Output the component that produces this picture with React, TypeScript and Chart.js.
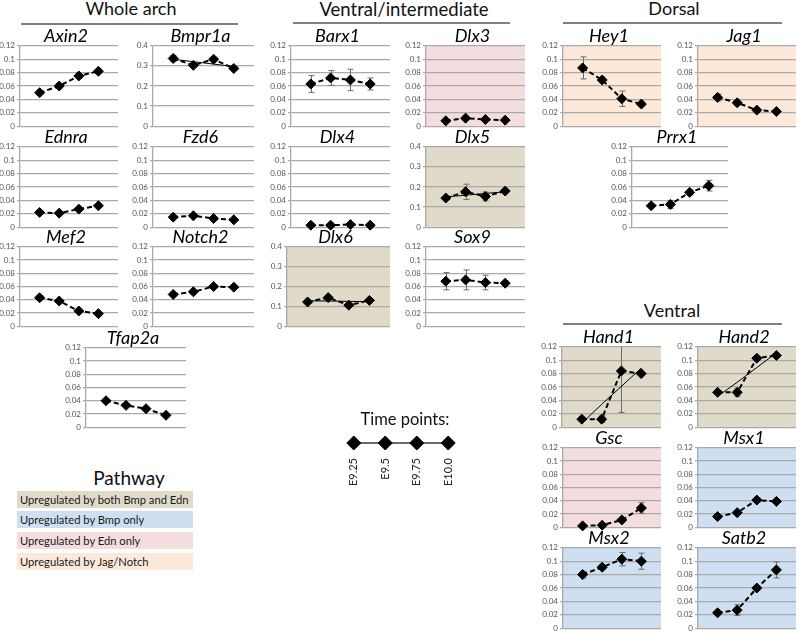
import React, { useEffect, useRef } from 'react';
import { Chart, registerables } from 'chart.js';
Chart.register(...registerables);

const FAMILY = "Lato, 'Open Sans', sans-serif";

// ---- time points
const timeLabels = ['E9.25', 'E9.5', 'E9.75', 'E10.0'];

// ---- values (relative expression), errors, trend lines
const axin2 = [0.050, 0.060, 0.075, 0.082];
const axin2Err = [0.002, 0.003, 0.003, 0.003];
const bmpr1a = [0.337, 0.303, 0.333, 0.287];
const bmpr1aErr = [0.014, 0.01, 0.01, 0.01];
const bmpr1aTrend = [0.333, 0.321, 0.309, 0.297];
const ednra = [0.022, 0.021, 0.027, 0.032];
const ednraErr = [0.002, 0.002, 0.002, 0.002];
const fzd6 = [0.015, 0.017, 0.013, 0.011];
const fzd6Err = [0.002, 0.002, 0.002, 0.002];
const mef2 = [0.043, 0.038, 0.023, 0.019];
const mef2Err = [0.003, 0.002, 0.002, 0.002];
const notch2 = [0.048, 0.052, 0.060, 0.059];
const notch2Err = [0.003, 0.002, 0.002, 0.002];
const tfap2a = [0.040, 0.033, 0.028, 0.018];
const tfap2aErr = [0.002, 0.002, 0.002, 0.002];

const barx1 = [0.063, 0.072, 0.069, 0.063];
const barx1Err = [0.0125, 0.011, 0.016, 0.009];
const dlx3 = [0.008, 0.012, 0.010, 0.009];
const dlx3Err = [0.001, 0.002, 0.001, 0.001];
const dlx4 = [0.003, 0.003, 0.004, 0.003];
const dlx4Err = [0.001, 0.001, 0.001, 0.001];
const dlx5 = [0.145, 0.176, 0.153, 0.180];
const dlx5Err = [0.008, 0.038, 0.022, 0.008];
const dlx5Trend = [0.151, 0.159, 0.168, 0.176];
const dlx6 = [0.122, 0.144, 0.106, 0.130];
const dlx6Err = [0.006, 0.01, 0.008, 0.006];
const dlx6Trend = [0.128, 0.127, 0.125, 0.124];
const sox9 = [0.068, 0.070, 0.066, 0.065];
const sox9Err = [0.013, 0.015, 0.011, 0.003];

const hey1 = [0.087, 0.069, 0.041, 0.033];
const hey1Err = [0.0165, 0.004, 0.0115, 0.003];
const jag1 = [0.043, 0.035, 0.024, 0.022];
const jag1Err = [0.005, 0.004, 0.002, 0.002];
const prrx1 = [0.032, 0.034, 0.052, 0.062];
const prrx1Err = [0.002, 0.006, 0.004, 0.008];

const hand1 = [0.012, 0.012, 0.084, 0.080];
const hand1Err = [0.002, 0.005, 0.062, 0.002];
const hand1Trend = [0.006, 0.034, 0.061, 0.088];
const hand2 = [0.052, 0.052, 0.103, 0.107];
const hand2Err = [0.002, 0.006, 0.003, 0.002];
const hand2Trend = [0.046, 0.067, 0.089, 0.111];
const gsc = [0.002, 0.003, 0.011, 0.029];
const gscErr = [0.001, 0.001, 0.003, 0.008];
const msx1 = [0.016, 0.022, 0.041, 0.039];
const msx1Err = [0.002, 0.003, 0.003, 0.002];
const msx2 = [0.080, 0.091, 0.103, 0.100];
const msx2Err = [0.005, 0.003, 0.01, 0.012];
const satb2 = [0.023, 0.027, 0.060, 0.087];
const satb2Err = [0.002, 0.008, 0.003, 0.012];

const pathwayLabels = [
  'Upregulated by both Bmp and Edn',
  'Upregulated by Bmp only',
  'Upregulated by Edn only',
  'Upregulated by Jag/Notch',
];

// ---- styles
const TAN = '#dfdbc8';
const BLUE = '#cddff1';
const PINK = '#f3dedd';
const PEACH = '#fde9d9';
const NONE = '';
const pathwayColors = [TAN, BLUE, PINK, PEACH];

type Panel = {
  name: string; values: number[]; errors: number[]; trend?: number[];
  max: number; bg: string; ax: number; rx: number; yt: number; yb: number;
};

const R1 = [45, 127], R2 = [146, 228], R3 = [246, 327], R4 = [347, 428];
const R5 = [447, 528], R6 = [547, 629];

const panels: Panel[] = [
  { name: 'Axin2', values: axin2, errors: axin2Err, max: 0.12, bg: NONE, ax: 20, rx: 120, yt: R1[0], yb: R1[1] },
  { name: 'Bmpr1a', values: bmpr1a, errors: bmpr1aErr, trend: bmpr1aTrend, max: 0.4, bg: NONE, ax: 153, rx: 256, yt: R1[0], yb: R1[1] },
  { name: 'Ednra', values: ednra, errors: ednraErr, max: 0.12, bg: NONE, ax: 20, rx: 120, yt: R2[0], yb: R2[1] },
  { name: 'Fzd6', values: fzd6, errors: fzd6Err, max: 0.12, bg: NONE, ax: 153, rx: 256, yt: R2[0], yb: R2[1] },
  { name: 'Mef2', values: mef2, errors: mef2Err, max: 0.12, bg: NONE, ax: 20, rx: 120, yt: R3[0], yb: R3[1] },
  { name: 'Notch2', values: notch2, errors: notch2Err, max: 0.12, bg: NONE, ax: 153, rx: 256, yt: R3[0], yb: R3[1] },
  { name: 'Tfap2a', values: tfap2a, errors: tfap2aErr, max: 0.12, bg: NONE, ax: 86, rx: 188, yt: R4[0], yb: R4[1] },
  { name: 'Barx1', values: barx1, errors: barx1Err, max: 0.12, bg: NONE, ax: 291, rx: 392, yt: R1[0], yb: R1[1] },
  { name: 'Dlx3', values: dlx3, errors: dlx3Err, max: 0.12, bg: PINK, ax: 426, rx: 527, yt: R1[0], yb: R1[1] },
  { name: 'Dlx4', values: dlx4, errors: dlx4Err, max: 0.12, bg: NONE, ax: 291, rx: 392, yt: R2[0], yb: R2[1] },
  { name: 'Dlx5', values: dlx5, errors: dlx5Err, trend: dlx5Trend, max: 0.4, bg: TAN, ax: 426, rx: 527, yt: R2[0], yb: R2[1] },
  { name: 'Dlx6', values: dlx6, errors: dlx6Err, trend: dlx6Trend, max: 0.4, bg: TAN, ax: 287, rx: 392, yt: R3[0], yb: R3[1] },
  { name: 'Sox9', values: sox9, errors: sox9Err, max: 0.12, bg: NONE, ax: 426, rx: 527, yt: R3[0], yb: R3[1] },
  { name: 'Hey1', values: hey1, errors: hey1Err, max: 0.12, bg: PEACH, ax: 563, rx: 663, yt: R1[0], yb: R1[1] },
  { name: 'Jag1', values: jag1, errors: jag1Err, max: 0.12, bg: PEACH, ax: 698, rx: 798, yt: R1[0], yb: R1[1] },
  { name: 'Prrx1', values: prrx1, errors: prrx1Err, max: 0.12, bg: NONE, ax: 632, rx: 730, yt: R2[0], yb: R2[1] },
  { name: 'Hand1', values: hand1, errors: hand1Err, trend: hand1Trend, max: 0.12, bg: TAN, ax: 562, rx: 663, yt: 346, yb: 428 },
  { name: 'Hand2', values: hand2, errors: hand2Err, trend: hand2Trend, max: 0.12, bg: TAN, ax: 698, rx: 798, yt: 346, yb: 428 },
  { name: 'Gsc', values: gsc, errors: gscErr, max: 0.12, bg: PINK, ax: 563, rx: 663, yt: R5[0], yb: R5[1] },
  { name: 'Msx1', values: msx1, errors: msx1Err, max: 0.12, bg: BLUE, ax: 698, rx: 798, yt: R5[0], yb: R5[1] },
  { name: 'Msx2', values: msx2, errors: msx2Err, max: 0.12, bg: BLUE, ax: 563, rx: 663, yt: R6[0], yb: R6[1] },
  { name: 'Satb2', values: satb2, errors: satb2Err, max: 0.12, bg: BLUE, ax: 698, rx: 798, yt: R6[0], yb: R6[1] },
];

const AXW = 36, PT = 6, PB = 6, PR = 4;
const GRID = '#a9a9a9';

function MiniChart({ p }: { p: Panel }) {
  const ref = useRef<HTMLCanvasElement>(null);
  const left = p.ax - AXW;
  const top = p.yt - PT;
  const width = p.rx - p.ax + AXW + PR;
  const height = p.yb - p.yt + PT + PB;
  useEffect(() => {
    const bgPlugin = {
      id: 'bg' + p.name,
      beforeDraw(chart: any) {
        if (!p.bg) return;
        const a = chart.chartArea;
        const ctx = chart.ctx;
        ctx.save();
        ctx.fillStyle = p.bg;
        ctx.fillRect(a.left, a.top, a.right - a.left, a.bottom - a.top);
        ctx.restore();
      },
    };
    const errPlugin = {
      id: 'err' + p.name,
      beforeDatasetsDraw(chart: any) {
        const meta = chart.getDatasetMeta(chart.data.datasets.length - 1);
        const ys = chart.scales.y;
        const a = chart.chartArea;
        const ctx = chart.ctx;
        ctx.save();
        ctx.strokeStyle = '#6b6b6b';
        ctx.lineWidth = 1;
        p.values.forEach((v, i) => {
          const e = p.errors[i];
          const pt = meta.data[i];
          if (!pt) return;
          const x = Math.round(pt.x) + 0.5;
          const y1 = Math.max(a.top, ys.getPixelForValue(v + e));
          const y2 = Math.min(a.bottom, ys.getPixelForValue(v - e));
          ctx.beginPath();
          ctx.moveTo(x, y1); ctx.lineTo(x, y2);
          if (ys.getPixelForValue(v + e) >= a.top) { ctx.moveTo(x - 3, y1); ctx.lineTo(x + 3, y1); }
          ctx.moveTo(x - 3, y2); ctx.lineTo(x + 3, y2);
          ctx.stroke();
        });
        ctx.restore();
      },
    };
    const datasets: any[] = [];
    if (p.trend) {
      datasets.push({
        data: p.trend.map((v, i) => ({ x: i + 1, y: v })),
        borderColor: '#000', borderWidth: 1, pointRadius: 0, clip: false,
      });
    }
    datasets.push({
      data: p.values.map((v, i) => ({ x: i + 1, y: v })),
      borderColor: '#000', borderWidth: 2, borderDash: [5, 3],
      pointStyle: 'rectRot', pointRadius: 5, pointBackgroundColor: '#000',
      pointBorderColor: '#000', pointBorderWidth: 1, clip: false,
    });
    const chart = new Chart(ref.current as HTMLCanvasElement, {
      type: 'line',
      data: { datasets },
      options: {
        animation: false,
        responsive: false,
        events: [],
        layout: { padding: { top: PT, bottom: PB, right: PR, left: 0 } },
        plugins: { legend: { display: false }, tooltip: { enabled: false } },
        scales: {
          x: { type: 'linear', min: 0, max: 5, display: false },
          y: {
            min: 0, max: p.max,
            afterFit: (s: any) => { s.width = AXW; },
            ticks: {
              stepSize: p.max > 0.2 ? 0.1 : 0.02,
              font: { size: 8, family: FAMILY },
              color: '#555',
              padding: 2,
              callback: (v: any) => String(parseFloat(Number(v).toFixed(3))),
            },
            grid: { color: GRID, lineWidth: 1.3, tickLength: 3 },
            border: { color: GRID, width: 1.3 },
          },
        },
      } as any,
      plugins: [bgPlugin, errPlugin],
    });
    return () => chart.destroy();
  }, []);
  const cx = (p.ax + p.rx) / 2 - 4;
  return (
    <>
      <canvas ref={ref} width={width} height={height}
        style={{ position: 'absolute', left, top, width, height }} />
      <div style={{
        position: 'absolute', left: cx - 60, width: 120, top: p.yt - 20,
        textAlign: 'center', fontFamily: FAMILY, fontStyle: 'italic',
        fontSize: 18, lineHeight: 1.2, color: '#000', whiteSpace: 'nowrap',
      }}>{p.name}</div>
    </>
  );
}

function TimeLegend() {
  const ref = useRef<HTMLCanvasElement>(null);
  useEffect(() => {
    const chart = new Chart(ref.current as HTMLCanvasElement, {
      type: 'line',
      data: {
        labels: timeLabels,
        datasets: [{
          data: timeLabels.map(() => 0.5),
          borderColor: '#6a6a6a', borderWidth: 2,
          pointStyle: 'rectRot', pointRadius: 7, pointBackgroundColor: '#000',
          pointBorderColor: '#000', pointBorderWidth: 1, clip: false,
        }],
      },
      options: {
        animation: false, responsive: false, events: [],
        layout: { padding: { top: 0, bottom: 0, left: 5.6, right: 5.7 } },
        plugins: { legend: { display: false }, tooltip: { enabled: false } },
        scales: {
          x: {
            type: 'category', offset: true,
            afterFit: (s: any) => { s.height = 36; },
            grid: { display: false }, border: { display: false },
            ticks: { minRotation: 90, maxRotation: 90, autoSkip: false, padding: 1,
              font: { size: 11, family: FAMILY }, color: '#222' },
          },
          y: { min: 0, max: 1, display: false },
        },
      } as any,
    });
    return () => chart.destroy();
  }, []);
  return <canvas ref={ref} width={142} height={56}
    style={{ position: 'absolute', left: 330, top: 429, width: 142, height: 56 }} />;
}

function Header({ text, cx, base, size, lineX1, lineX2, lineY }:
  { text: string; cx: number; base: number; size: number; lineX1?: number; lineX2?: number; lineY?: number }) {
  return (
    <>
      <div style={{
        position: 'absolute', left: cx - 120, width: 240, top: base - size * 0.987,
        textAlign: 'center', fontFamily: FAMILY, fontSize: size, lineHeight: 1.2,
        color: '#111', whiteSpace: 'nowrap',
      }}>{text}</div>
      {lineY !== undefined && (
        <div style={{ position: 'absolute', left: lineX1, width: (lineX2 as number) - (lineX1 as number),
          top: lineY, height: 2, background: '#808080' }} />
      )}
    </>
  );
}

export default function App() {
  return (
    <div style={{ position: 'absolute', left: 0, top: 0, width: 800, height: 633,
      overflow: 'hidden', background: '#fff' }}>
      <Header text="Whole arch" cx={131} base={16} size={18} lineX1={21} lineX2={238} lineY={23} />
      <Header text="Ventral/intermediate" cx={404} base={16} size={18.5} lineX1={293} lineX2={510} lineY={22} />
      <Header text="Dorsal" cx={674} base={16} size={18} lineX1={563} lineX2={782} lineY={22} />
      <Header text="Ventral" cx={672} base={318} size={18} lineX1={563} lineX2={782} lineY={323} />
      {panels.map((p) => <MiniChart key={p.name} p={p} />)}
      <Header text="Time points:" cx={405} base={426} size={16.5} />
      <TimeLegend />
      <Header text="Pathway" cx={129} base={486} size={19} />
      {pathwayLabels.map((t, i) => (
        <div key={t} style={{
          position: 'absolute', left: 17, width: 176, top: [491, 511, 532, 553][i], height: 17,
          background: pathwayColors[i], fontFamily: FAMILY, fontSize: 11.2, lineHeight: '17px',
          paddingLeft: 3, boxSizing: 'border-box', color: '#1a1a1a', whiteSpace: 'nowrap',
        }}>{t}</div>
      ))}
    </div>
  );
}
